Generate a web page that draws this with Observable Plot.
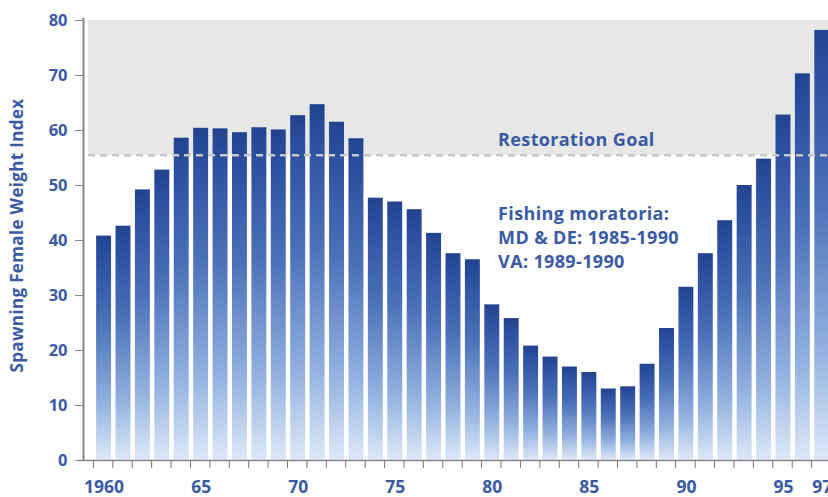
<!DOCTYPE html>
<html><head><meta charset="utf-8">
<script src="https://cdn.jsdelivr.net/npm/d3@7"></script>
<script src="https://cdn.jsdelivr.net/npm/@observablehq/plot@0.6"></script>
<style>body{margin:0;background:#fff} .ann text, text.ann{letter-spacing:0.35px}</style>
</head><body><div id="chart"></div>
<script>
const years = d3.range(1960, 1998);
const index = [40.8,42.6,49.2,52.8,58.6,60.4,60.3,59.6,60.5,60.1,62.7,64.7,61.5,58.5,47.7,47.0,45.6,41.3,37.6,36.5,28.3,25.8,20.8,18.8,17.0,16.0,13.0,13.4,17.5,24.0,31.5,37.6,43.6,50.0,54.8,62.8,70.3,78.2];
const goal = 55.5;
const yTicks = [0,10,20,30,40,50,60,70,80];
const xTickYears = [1960,1965,1970,1975,1980,1985,1990,1995,1997];
const xTickLabels = ["1960","65","70","75","80","85","90","95","97"];
const goalLabel = "Restoration Goal";
const notes = ["Fishing moratoria:", "MD & DE: 1985-1990", "VA: 1989-1990"];
const yLabel = "Spawning Female Weight Index";

const data = years.map((year, i) => ({year, value: index[i]}));
const labelMap = new Map(xTickYears.map((y, i) => [y, xTickLabels[i]]));
const xMin = 1958.94, xMax = 1997.32;
const blue = "#3a5aa3";
const font = "Open Sans";

const chart = Plot.plot({
  width: 828, height: 497,
  marginLeft: 83, marginRight: 0, marginTop: 20, marginBottom: 37,
  style: {fontFamily: font, background: "white"},
  x: {type: "linear", domain: [xMin, xMax]},
  y: {domain: [0, 80]},
  marks: [
    Plot.rect([goal], {x1: 1959.2, x2: xMax, y1: d => d, y2: 80, fill: "#e7e7e5"}),
    Plot.rect(data, {x1: d => d.year - 0.385, x2: d => d.year + 0.385, y1: 0, y2: "value", fill: "url(#barGrad)"}),
    Plot.ruleY([goal], {x1: 1959.2, x2: xMax, stroke: "#c8c8c8", strokeWidth: 2.5, strokeDasharray: "7,5"}),
    Plot.ruleY([0], {x1: 1958.7, x2: xMax, stroke: "#888", strokeWidth: 1.5}),
    Plot.ruleX([xMin], {y1: 0, y2: 80.4, stroke: "#888", strokeWidth: 2}),
    Plot.axisY({ticks: yTicks, tickSize: 8, tickPadding: 8, fontSize: 16.5, fontWeight: "bold", fill: blue, stroke: "#888", label: null}),
    Plot.axisX({ticks: d3.range(1959, 1997).map(y => y + 0.45), tickSize: 8, tickFormat: () => "", stroke: "#777", label: null}),
    Plot.axisX({ticks: xTickYears, tickSize: 0, tickPadding: 20, tickFormat: d => labelMap.get(d), fontSize: 17.5, fontWeight: "bold", fill: blue, label: null}),
    Plot.text([goalLabel], {x: 1980.3, y: 58.2, textAnchor: "start", fontSize: 18, fontWeight: "bold", fill: blue, className: "ann"}),
    Plot.text([notes.join("\n")], {x: 1980.3, y: 40.7, textAnchor: "start", lineHeight: 1.33, fontSize: 18, fontWeight: "bold", fill: blue, className: "ann"}),
    Plot.text([yLabel], {frameAnchor: "left", textAnchor: "middle", dx: -66, dy: -5, rotate: -90, fontSize: 17, fontWeight: "bold", fill: blue, className: "ann"})
  ]
});
const svg = d3.select(chart);
const defs = svg.insert("defs", ":first-child");
const g = defs.append("linearGradient").attr("id", "barGrad").attr("x1", 0).attr("y1", 0).attr("x2", 0).attr("y2", 1);
[["0%", "#22438f"], ["8%", "#2a4d9e"], ["40%", "#4c72ba"], ["75%", "#93b2e0"], ["100%", "#dde9f7"]].forEach(([o, c]) => g.append("stop").attr("offset", o).attr("stop-color", c));
document.getElementById("chart").append(chart);
</script>
</body></html>
